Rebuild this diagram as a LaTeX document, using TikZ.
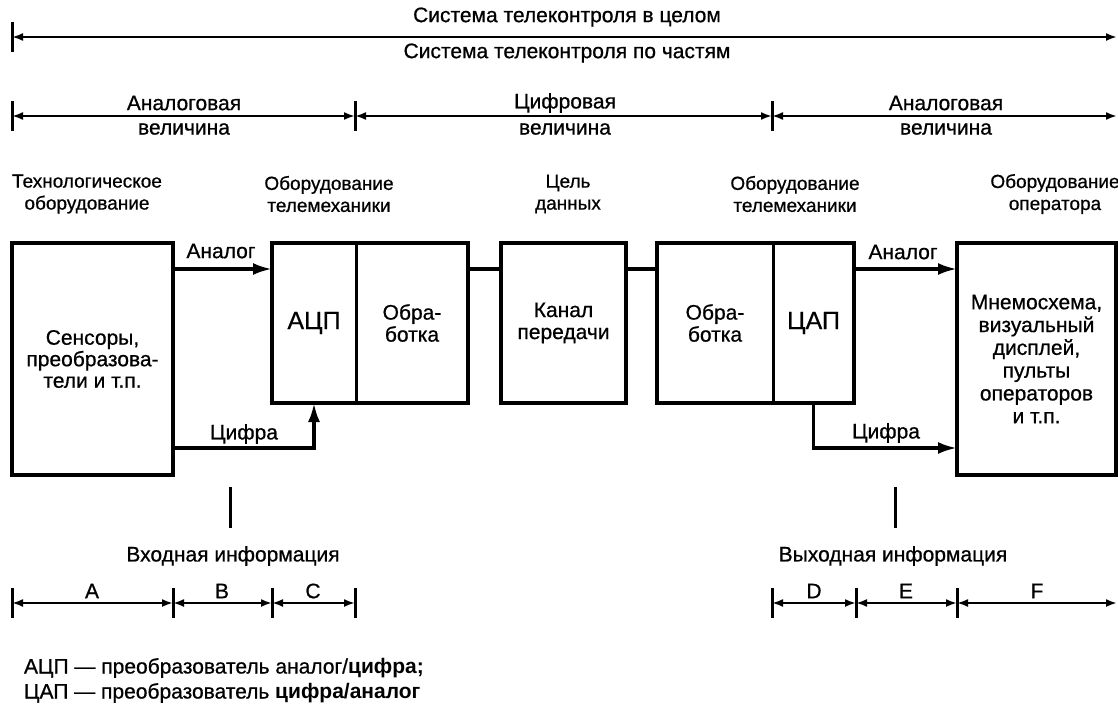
\documentclass[tikz,border=0pt]{standalone}
\usepackage{fontspec}
\setmainfont{Liberation Sans}[UprightFeatures={FakeBold=0.7}]
\usetikzlibrary{arrows.meta,calc}
\newcommand\txtA{\fontsize{21}{22}\selectfont}
\newcommand\txtH{\fontsize{19}{22}\selectfont}
\newcommand\txtB{\fontsize{25}{26}\selectfont}
\begin{document}
\begin{tikzpicture}[x=1pt,y=-1pt,
  every node/.style={font=\txtA, inner sep=0pt, outer sep=0pt},
  box/.style={draw, line width=4pt, anchor=north west, align=center},
  sub/.style={draw, line width=3pt, anchor=north west, align=center},
  frame/.style={draw, line width=4pt},
  link/.style={line width=3.3pt},
  conn/.style={line width=3.3pt, -{Latex[length=19pt,width=12pt]}},
  dim/.style={line width=2pt, {Latex[length=11pt,width=8pt]}-{Latex[length=11pt,width=8pt]}},
  tickmark/.style={line width=3pt},
  lab/.style={align=center},
  head/.style={align=center, font=\txtH}]
\useasboundingbox (0,0) rectangle (1118,707);

% ---------- top dimension lines ----------
\coordinate (t0) at (12,37);
\coordinate (t1) at (1117,37);
\draw[dim] (t0) -- (t1);
\foreach \p in {t0} \draw[tickmark] ([yshift=15pt]\p) -- ([yshift=-15pt]\p);
\node (whole) at (567,17) {Система телеконтроля в целом};
\node (parts) at (567,53) {Система телеконтроля по частям};

\coordinate (r0) at (12,116);
\coordinate (r1) at (355,116);
\coordinate (r2) at (772,116);
\coordinate (r3) at (1117,116);
\draw[dim] (r0) -- (r1);
\draw[dim] (r1) -- (r2);
\draw[dim] (r2) -- (r3);
\foreach \p in {r0,r1,r2} \draw[tickmark] ([yshift=15pt]\p) -- ([yshift=-15pt]\p);
\node[lab] (an1) at (184,103) {Аналоговая};
\node[lab] (an1b) at (184,129) {величина};
\node[lab] (dg) at (565,103) {Цифровая};
\node[lab] (dgb) at (565,129) {величина};
\node[lab] (an2) at (946,103) {Аналоговая};
\node[lab] (an2b) at (946,129) {величина};

% ---------- headers ----------
\node[head] (h1) at (87,194) {Технологическое\\оборудование};
\node[head] (h2) at (329,194) {Оборудование\\телемеханики};
\node[head] (h3) at (568,194) {Цель\\данных};
\node[head] (h4) at (795,194) {Оборудование\\телемеханики};
\node[head] (h5) at (1055,194) {Оборудование\\оператора};

% ---------- boxes ----------
\node[box, minimum width=161pt, minimum height=232pt, font={\fontsize{21}{21.5}\selectfont}] (sens) at (12,243) {Сенсоры,\\преобразова-\\тели и т.п.};
\node[sub, minimum width=84pt, minimum height=160pt] (adc) at (272,243) {\txtB АЦП};
\node[sub, minimum width=112pt, minimum height=160pt] (proc1) at (356,243) {Обра-\\ботка};
\draw[frame] (adc.north west) rectangle (proc1.south east);
\node[box, minimum width=125pt, minimum height=160pt] (chan) at (501,243) {Канал\\передачи};
\node[sub, minimum width=116pt, minimum height=160pt] (proc2) at (657,243) {Обра-\\ботка};
\node[sub, minimum width=81pt, minimum height=160pt] (dac) at (773,243) {\txtB ЦАП};
\draw[frame] (proc2.north west) rectangle (dac.south east);
\node[box, minimum width=159pt, minimum height=232pt, font={\fontsize{21}{22.8}\selectfont}] (op) at (957,243) {Мнемосхема,\\визуальный\\дисплей,\\пульты\\операторов\\и т.п.};

% ---------- connectors ----------
\coordinate (ya) at (0,269);
\coordinate (yd) at (0,448);
\draw[conn] (sens.east |- ya) -- (adc.west |- ya);
\draw[conn] (sens.east |- yd) -| (adc.south);
\draw[link] (proc1.east |- ya) -- (chan.west |- ya);
\draw[link] (chan.east |- ya) -- (proc2.west |- ya);
\draw[conn] (dac.east |- ya) -- (op.west |- ya);
\draw[conn] (dac.south) |- (op.west |- yd);
\node (la1) at (221,251) {Аналог};
\node (ld1) at (244,434) {Цифра};
\node (la2) at (903,252) {Аналог};
\node (ld2) at (886,433) {Цифра};

% ---------- information markers ----------
\coordinate (mi0) at (230,487);
\coordinate (mi1) at (230,528);
\coordinate (mo0) at (895,487);
\coordinate (mo1) at (895,528);
\draw[tickmark] (mi0) -- (mi1);
\draw[tickmark] (mo0) -- (mo1);
\node (inf1) at (233,556) {Входная информация};
\node (inf2) at (893,556) {Выходная информация};

% ---------- bottom dimension lines ----------
\coordinate (b0) at (12,603);
\coordinate (b1) at (173,603);
\coordinate (b2) at (272,603);
\coordinate (b3) at (355,603);
\draw[dim] (b0) -- (b1);
\draw[dim] (b1) -- (b2);
\draw[dim] (b2) -- (b3);
\foreach \p in {b0,b1,b2,b3} \draw[tickmark] ([yshift=15pt]\p) -- ([yshift=-15pt]\p);
\node (dA) at (92,591) {A};
\node (dB) at (222,591) {B};
\node (dC) at (313,591) {C};

\coordinate (c0) at (772,603);
\coordinate (c1) at (856,603);
\coordinate (c2) at (957,603);
\coordinate (c3) at (1117,603);
\draw[dim] (c0) -- (c1);
\draw[dim] (c1) -- (c2);
\draw[dim] (c2) -- (c3);
\foreach \p in {c0,c1,c2} \draw[tickmark] ([yshift=15pt]\p) -- ([yshift=-15pt]\p);
\node (dD) at (814,591) {D};
\node (dE) at (906,591) {E};
\node (dF) at (1037,591) {F};

% ---------- legend ----------
\node[anchor=west] (leg1) at (24,668) {АЦП — преобразователь аналог/\textbf{цифра;}};
\node[anchor=west] (leg2) at (24,693) {ЦАП — преобразователь \textbf{цифра/аналог}};
\end{tikzpicture}
\end{document}
